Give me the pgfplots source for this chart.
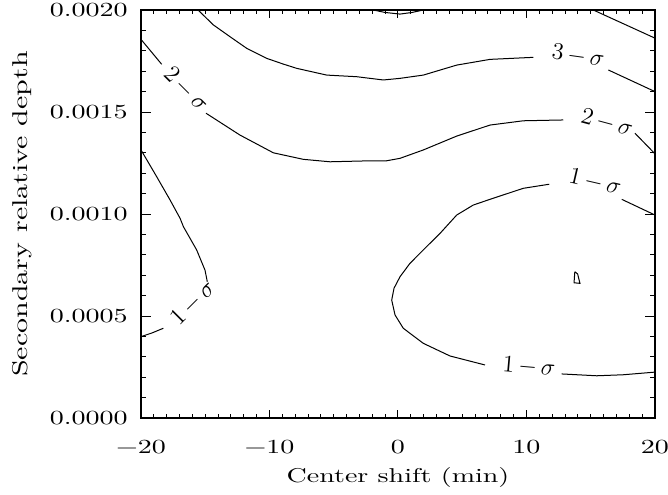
\documentclass[border=0pt]{standalone}
\usepackage{fontspec}
\setmainfont{lmroman10-regular.otf}[FakeStretch=1.4]
\usepackage{pgfplots}
\pgfplotsset{compat=1.18}
\begin{document}
\begin{tikzpicture}
\useasboundingbox (-70.5pt,-38pt) rectangle (263.5pt,209pt);
\begin{axis}[at={(0,0)}, anchor=south west, scale only axis, width=257pt, height=204pt,
  xmin=-20, xmax=20, ymin=0, ymax=0.002,
  xtick={-20,-10,0,10,20}, xticklabels={−20,−10,0,10,20},
  ytick={0,0.0005,0.001,0.0015,0.002}, yticklabels={0.0000,0.0005,0.0010,0.0015,0.0020},
  minor x tick num=9, minor y tick num=4,
  tick align=inside,
  major tick length=5pt, minor tick length=2.5pt,
  xtick style={/pgfplots/major tick length=4pt, /pgfplots/minor tick length=2pt},
  axis line style={line width=0.7pt},
  every tick/.style={black, line width=0.5pt},
  tick label style={font=\fontsize{10}{12}\selectfont, inner sep=0pt},
  yticklabel style={xshift=-6.5pt},
  xticklabel style={yshift=-11pt},
  xlabel={Center shift (min)}, ylabel={Secondary relative depth},
  xlabel style={font=\fontsize{10}{12}\selectfont, at={(axis description cs:0.5,-0.1446)}, anchor=center},
  ylabel style={font=\fontsize{10.7}{12}\selectfont, at={(axis description cs:-0.2305,0.5)}, anchor=center},
]
% 3-sigma
\addplot[black, line width=0.5pt] coordinates {(-15.56,0.0020) (-14.37,0.001927) (-13.07,0.001869) (-11.77,0.001812) (-10.22,0.001763) (-8.93,0.001735) (-7.88,0.001714) (-5.55,0.001681) (-3.21,0.001673) (-1.14,0.001657) (0.16,0.001665) (1.97,0.001681) (4.57,0.00173) (7.16,0.001758) (10.53,0.001768)};
\addplot[black, line width=0.5pt] coordinates {(16.37,0.001706) (20,0.0016)};
% 2-sigma
\addplot[black, line width=0.5pt] coordinates {(-20,0.001856) (-18.39,0.001734)};
\addplot[black, line width=0.5pt] coordinates {(-14.94,0.001494) (-12.30,0.001387) (-9.70,0.0013) (-7.37,0.001268) (-5.29,0.001256) (-2.70,0.00126) (-0.88,0.001261) (0.16,0.001273) (1.97,0.001314) (4.57,0.001382) (7.16,0.001436) (9.75,0.001457) (12.86,0.001461)};
\addplot[black, line width=0.5pt] coordinates {(18.44,0.001396) (20,0.001295)};
% 4-sigma pieces
\addplot[black, line width=0.5pt] coordinates {(15.20,0.0020) (20,0.001862)};
\addplot[black, line width=0.5pt] coordinates {(-1.92,0.002) (-1.01,0.001988) (0.16,0.00198) (1.09,0.001988) (1.97,0.002)};
% left 1-sigma
\addplot[black, line width=0.5pt] coordinates {(-20,0.001314) (-18.78,0.001183) (-17.74,0.001069) (-16.96,0.000979) (-16.70,0.000938) (-15.67,0.000824) (-15.02,0.000725) (-14.84,0.000668)};
\addplot[black, line width=0.5pt] coordinates {(-18.26,0.00044) (-19.14,0.000417) (-20,0.000399)};
% right 1-sigma
\addplot[black, line width=0.5pt] coordinates {(20,0.000995) (17.41,0.001072)};
\addplot[black, line width=0.5pt] coordinates {(11.77,0.001146) (9.75,0.001126) (7.16,0.001072) (5.86,0.001044) (4.57,0.000995) (3.27,0.000905) (1.97,0.000824) (0.93,0.000758) (0.16,0.000693) (-0.31,0.000636) (-0.49,0.000578) (-0.23,0.000505) (0.41,0.00044) (1.97,0.000366) (4.05,0.000304) (6.77,0.00026)};
\addplot[black, line width=0.5pt] coordinates {(12.74,0.000216) (15.46,0.000207) (17.53,0.000212) (20,0.000225)};
% small closed contour
\addplot[black, line width=0.5pt] coordinates {(13.76,0.000717) (13.70,0.000663) (14.16,0.00066) (13.98,0.000706) (13.76,0.000717)};
% labels
\node[font=\fontsize{11.5}{12}\selectfont, rotate=-8] at (axis cs:14.01,0.001775) {$3\,{-}\,\sigma$};
\node[font=\fontsize{11.5}{12}\selectfont, rotate=-15] at (axis cs:16.26,0.001446) {$2\,{-}\,\sigma$};
\node[font=\fontsize{11.5}{12}\selectfont, rotate=-13] at (axis cs:15.33,0.001157) {$1\,{-}\,\sigma$};
\node[font=\fontsize{11.5}{12}\selectfont, rotate=-45] at (axis cs:-16.50,0.001613) {$2\,{-}\,\sigma$};
\node[font=\fontsize{11.5}{12}\selectfont, rotate=45] at (axis cs:-15.95,0.000564) {$1\,{-}\,\sigma$};
\node[font=\fontsize{11.5}{12}\selectfont, rotate=-5] at (axis cs:10.19,0.00025) {$1\,{-}\,\sigma$};
\end{axis}
\end{tikzpicture}
\end{document}
